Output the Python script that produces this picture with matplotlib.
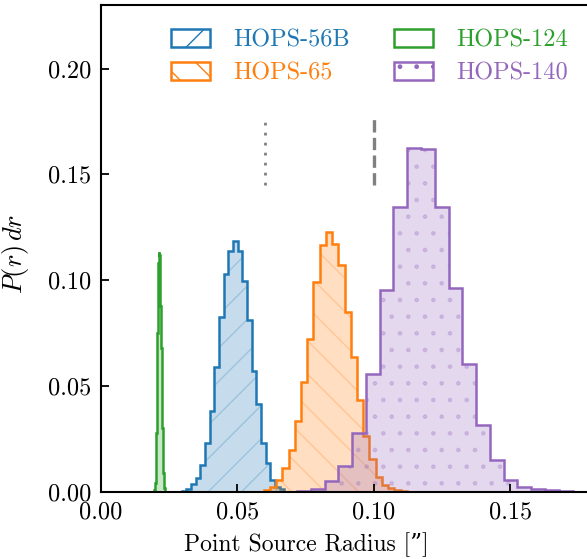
import numpy as np
import matplotlib
matplotlib.use("Agg")
import matplotlib.pyplot as plt
from matplotlib.patches import Patch

plt.rcParams['font.family'] = ['cmr10', 'DejaVu Serif']
plt.rcParams['mathtext.fontset'] = 'cm'
plt.rcParams['axes.formatter.use_mathtext'] = True
plt.rcParams['font.size'] = 17.5

# histogram values P(r) dr, uniform bins (start, width)
names = ['HOPS-56B', 'HOPS-65', 'HOPS-124', 'HOPS-140']
colors = ['C0', 'C1', 'C2', 'C4']
hatches = ['/', '\\', '', '.']

bin_start = [0.02958, 0.0596, 0.0196, 0.0718]
bin_width = [0.00171, 0.00228, 0.0002, 0.00505]

p_56b = [0.0005, 0.0013, 0.0036, 0.0065, 0.0128, 0.023, 0.038, 0.059, 0.0824,
         0.1029, 0.1136, 0.1185, 0.1139, 0.0998, 0.0813, 0.0569, 0.0415,
         0.023, 0.0136, 0.0057, 0.0025, 0.0013]
p_65 = [0.0008, 0.0025, 0.0057, 0.0112, 0.0199, 0.0336, 0.0517, 0.0723, 0.0991,
        0.1168, 0.1228, 0.1171, 0.107, 0.0848, 0.0635, 0.0432, 0.0262, 0.0155,
        0.007, 0.0033, 0.002, 0.0008, 0.0004]
p_124 = [0.001, 0.004, 0.012, 0.028, 0.05, 0.075, 0.095, 0.108, 0.1135, 0.112,
         0.103, 0.088, 0.068, 0.048, 0.03, 0.017, 0.009, 0.004, 0.002, 0.001]
p_140 = [0.0005, 0.0013, 0.0052, 0.0123, 0.028, 0.0558, 0.0955, 0.1344, 0.1625,
         0.162, 0.1344, 0.0961, 0.0605, 0.0317, 0.0151, 0.0054, 0.0022, 0.0013,
         0.0008, 0.0004]
probs = [p_56b, p_65, p_124, p_140]

# reference radii (dotted, dashed)
ref_x = [0.06, 0.10]
ref_y = [0.145, 0.178]

fig = plt.figure(figsize=(5.87, 5.59), dpi=100)
ax = fig.add_axes([0.172, 0.12, 0.837, 0.871])

handles = []
for name, c, h, x0, w, p in zip(names, colors, hatches, bin_start, bin_width, probs):
    edges = x0 + w * np.arange(len(p) + 1)
    ax.stairs(p, edges, fill=True, facecolor=c, edgecolor=c, hatch=h,
              alpha=0.25, linewidth=0)
    ax.stairs(p, edges, color=c, linewidth=1.8)
    handles.append(Patch(facecolor='white', edgecolor=c, hatch=h, linewidth=1.8,
                         label=name))

ax.vlines(ref_x[0], ref_y[0], ref_y[1], color='gray', linewidth=2.0,
          linestyle=(0, (1, 2.6)))
ax.vlines(ref_x[1], ref_y[0], ref_y[1], color='gray', linewidth=2.4,
          linestyle='--')

ax.set_xlim(0, 0.18)
ax.set_ylim(0, 0.23)
ax.set_xticks([0.0, 0.05, 0.10, 0.15])
ax.set_yticks([0.0, 0.05, 0.10, 0.15, 0.20])
ax.xaxis.set_major_formatter(matplotlib.ticker.FormatStrFormatter('%.2f'))
ax.yaxis.set_major_formatter(matplotlib.ticker.FormatStrFormatter('%.2f'))
ax.tick_params(direction='in', length=6, width=1.3, pad=7)
for s in ax.spines.values():
    s.set_linewidth(1.5)

ax.set_xlabel('Point Source Radius [\u201d]', fontsize=17)
ax.xaxis.set_label_coords(0.417, -0.083)
ax.set_ylabel(r'$P(r)\,dr$', fontsize=19)
ax.yaxis.set_label_coords(-0.142, 0.489)

leg = ax.legend(handles=handles, ncol=2, loc='upper left',
                bbox_to_anchor=(0.098, 0.995), frameon=False,
                handlelength=1.6, handleheight=0.74, handletextpad=0.95,
                columnspacing=1.82, labelspacing=0.42)
for t, c in zip(leg.get_texts(), colors):
    t.set_color(c)

fig.savefig('out.png', dpi=100)
